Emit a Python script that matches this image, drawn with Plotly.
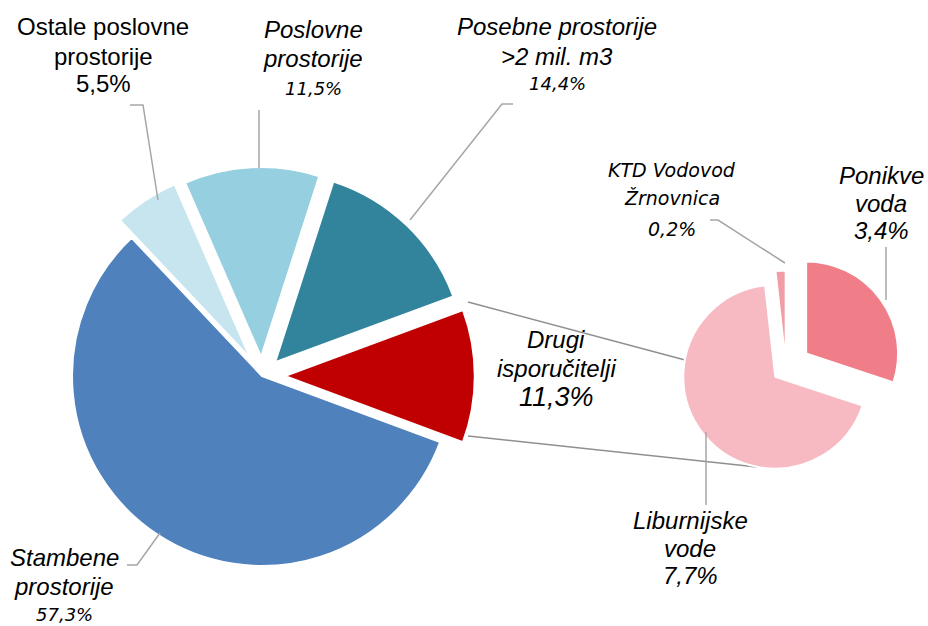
import plotly.graph_objects as go

W, H = 928, 626

# ---------------- data ----------------
main_labels = ["Drugi isporučitelji", "Stambene prostorije", "Ostale poslovne prostorije",
               "Poslovne prostorije", "Posebne prostorije >2 mil. m3"]
main_values = [11.3, 57.3, 5.5, 11.5, 14.4]
main_colors = ["#C00000", "#4F81BD", "#C6E5EE", "#96CFDF", "#31849B"]
main_pull = [0.12, 0.0, 0.11, 0.10, 0.10]

sub_labels = ["Ponikve voda", "Liburnijske vode", "KTD Vodovod Žrnovnica"]
sub_values = [3.4, 7.7, 0.2]
sub_colors = ["#EF7E88", "#F7BAC3", "#F29DA6"]
sub_pull = [0.27, 0.15, 0.06]

pct_text = {
    "Ostale": "5,5%", "Poslovne": "11,5%", "Posebne": "14,4%", "KTD": "0,2%",
    "Ponikve": "3,4%", "Drugi": "11,3%", "Liburnijske": "7,7%", "Stambene": "57,3%",
}


def px(x):
    return x / W


def py(y):
    return 1 - y / H


def dom_x(cx, half):
    return [px(cx - half), px(cx + half)]


def dom_y(cy, half):
    return [py(cy + half), py(cy - half)]


fig = go.Figure()

# main pie: center (262,376), r=190
half_main = 190 * (1 + max(main_pull))
fig.add_trace(go.Pie(
    labels=main_labels, values=main_values, sort=False, direction="clockwise",
    rotation=69.7, pull=main_pull, textinfo="none", hoverinfo="label+percent",
    marker=dict(colors=main_colors, line=dict(color="white", width=2)),
    domain=dict(x=dom_x(262, half_main), y=dom_y(376, half_main)),
    showlegend=False,
))

# secondary pie: center (786,368), r=92
half_sub = 92 * (1 + max(sub_pull))
fig.add_trace(go.Pie(
    labels=sub_labels, values=sub_values, sort=False, direction="clockwise",
    rotation=0, pull=sub_pull, textinfo="none", hoverinfo="label+percent",
    marker=dict(colors=sub_colors, line=dict(color="white", width=2)),
    domain=dict(x=dom_x(786, half_sub), y=dom_y(368, half_sub)),
    showlegend=False,
))

ARIAL = "Liberation Sans, Arial"
VERD = "DejaVu Sans, Verdana"

# each label: list of (text, family, size, style), center x, list of line y's
label_specs = [
    ([("Ostale poslovne", ARIAL, 24, "normal"), ("prostorije", ARIAL, 24, "normal"),
      (pct_text["Ostale"], ARIAL, 24, "normal")], 103, [27, 56, 84]),
    ([("Poslovne", ARIAL, 24, "italic"), ("prostorije", ARIAL, 24, "italic"),
      (pct_text["Poslovne"], VERD, 18, "italic")], 313, [30, 59, 88]),
    ([("Posebne prostorije", ARIAL, 24, "italic"), (">2 mil. m3", ARIAL, 24, "italic"),
      (pct_text["Posebne"], VERD, 18, "italic")], 557, [27, 56, 84]),
    ([("KTD Vodovod", VERD, 19, "italic"), ("Žrnovnica", VERD, 19, "italic"),
      (pct_text["KTD"], VERD, 19, "italic")], 672, [170, 198, 229]),
    ([("Ponikve", ARIAL, 24, "italic"), ("voda", ARIAL, 24, "italic"),
      (pct_text["Ponikve"], ARIAL, 24, "italic")], 881, [175, 203, 231]),
    ([("Drugi", ARIAL, 24, "italic"), ("isporučitelji", ARIAL, 24, "italic"),
      (pct_text["Drugi"], ARIAL, 27, "italic")], 556, [340, 368, 397]),
    ([("Liburnijske", ARIAL, 24, "italic"), ("vode", ARIAL, 24, "italic"),
      (pct_text["Liburnijske"], ARIAL, 24, "italic")], 690, [520, 548, 575]),
    ([("Stambene", ARIAL, 24, "italic"), ("prostorije", ARIAL, 24, "italic"),
      (pct_text["Stambene"], VERD, 18, "italic")], 64, [557, 586, 614]),
]

annotations = []
for lines, cx, ys in label_specs:
    for (text, fam, size, style), y in zip(lines, ys):
        annotations.append(dict(
            text=text, x=px(cx), y=py(y), xref="paper", yref="paper",
            xanchor="center", yanchor="middle", showarrow=False, align="center",
            borderpad=0,
            font=dict(family=fam, size=size, color="black", style=style),
        ))

leader_pts = [
    [(130, 105), (143, 105), (158, 200)],
    [(259, 110), (259, 168)],
    [(513, 104), (502, 104), (410, 220)],
    [(710, 220), (718, 220), (785, 263)],
    [(886, 247), (886, 300)],
    [(706, 432), (706, 505)],
    [(127, 565), (137, 565), (160, 533)],
]
connector_pts = [
    [(468, 302), (685, 360)],
    [(468, 436), (757, 467)],
]


def path(pts):
    return "M " + " L ".join("%.5f,%.5f" % (px(x), py(y)) for x, y in pts)


shapes = []
for pts in leader_pts:
    shapes.append(dict(type="path", path=path(pts), xref="paper", yref="paper",
                       line=dict(color="#A6A6A6", width=1.5)))
for pts in connector_pts:
    shapes.append(dict(type="path", path=path(pts), xref="paper", yref="paper",
                       line=dict(color="#8F8F8F", width=1.5), layer="below"))

fig.update_layout(
    width=W, height=H, margin=dict(l=0, r=0, t=0, b=0),
    paper_bgcolor="white", plot_bgcolor="white",
    annotations=annotations, shapes=shapes, showlegend=False,
)

fig.write_html(
    "out.html",
    config={"displayModeBar": False},
    post_script="document.body.style.margin='0px';document.body.style.padding='0px';",
)
